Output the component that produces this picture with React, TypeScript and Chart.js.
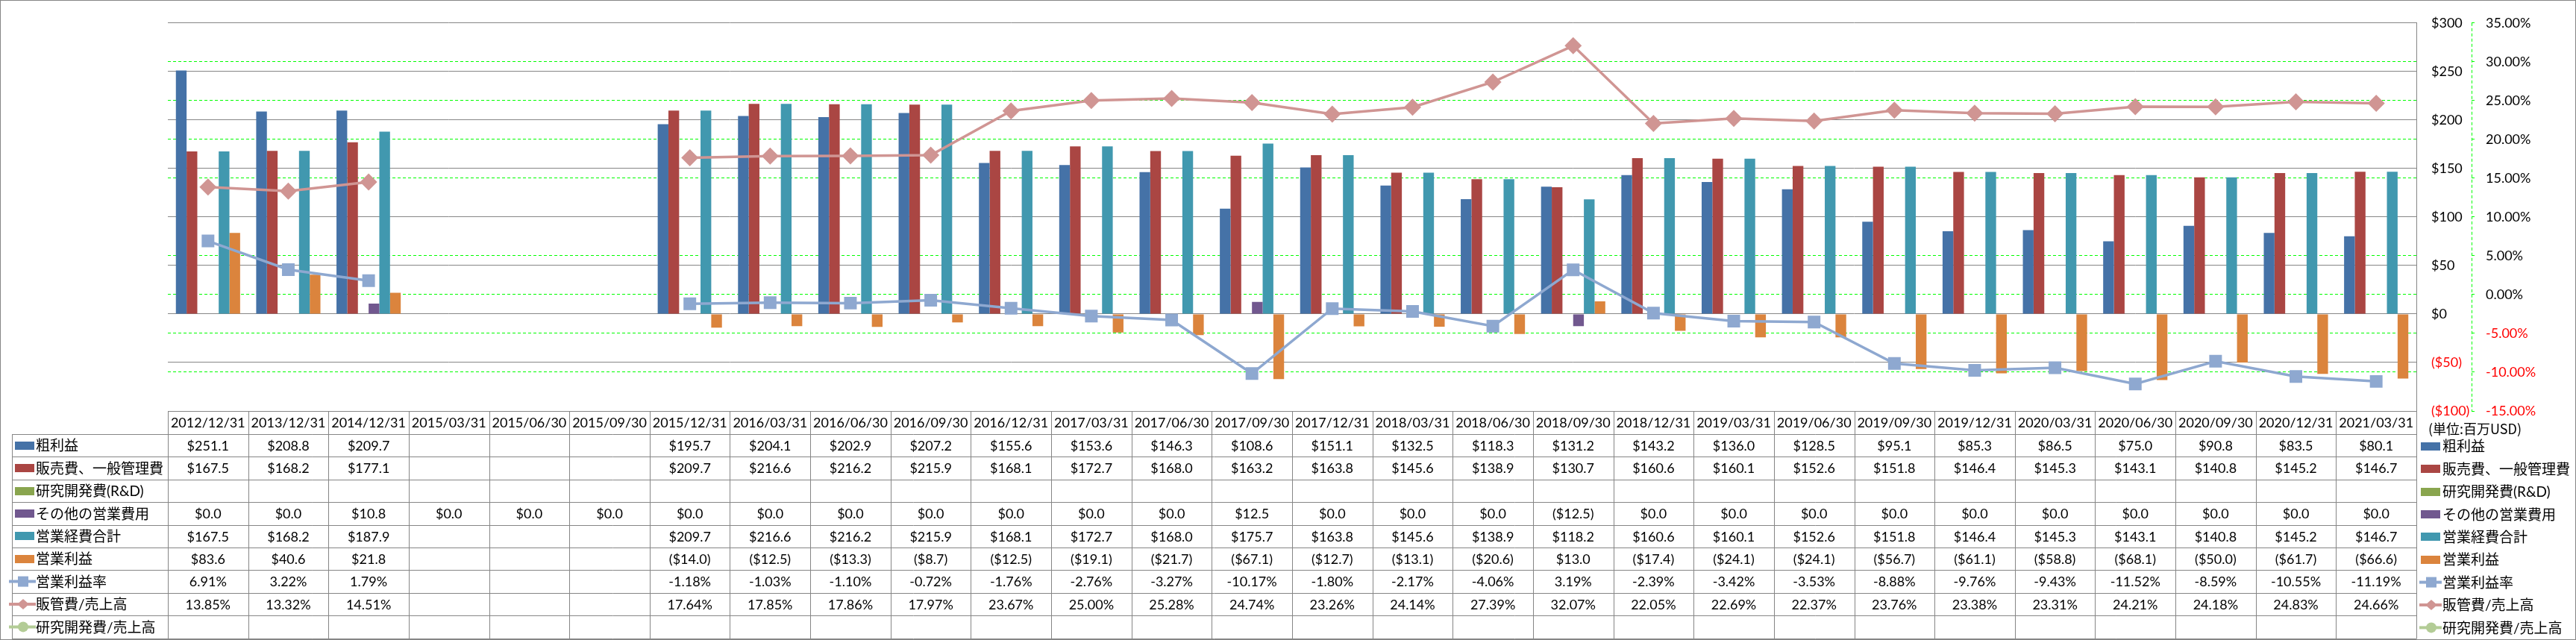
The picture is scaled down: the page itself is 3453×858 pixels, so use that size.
import React, { useEffect, useRef } from 'react';
import { Chart, registerables } from 'chart.js';

Chart.register(...registerables);

const N = null;

const categories = [
  '2012/12/31', '2013/12/31', '2014/12/31', '2015/03/31', '2015/06/30', '2015/09/30', '2015/12/31',
  '2016/03/31', '2016/06/30', '2016/09/30', '2016/12/31', '2017/03/31', '2017/06/30', '2017/09/30',
  '2017/12/31', '2018/03/31', '2018/06/30', '2018/09/30', '2018/12/31', '2019/03/31', '2019/06/30',
  '2019/09/30', '2019/12/31', '2020/03/31', '2020/06/30', '2020/09/30', '2020/12/31', '2021/03/31',
];

const grossProfit = [251.1, 208.8, 209.7, N, N, N, 195.7, 204.1, 202.9, 207.2, 155.6, 153.6, 146.3, 108.6, 151.1, 132.5, 118.3, 131.2, 143.2, 136.0, 128.5, 95.1, 85.3, 86.5, 75.0, 90.8, 83.5, 80.1];
const sgaExpense = [167.5, 168.2, 177.1, N, N, N, 209.7, 216.6, 216.2, 215.9, 168.1, 172.7, 168.0, 163.2, 163.8, 145.6, 138.9, 130.7, 160.6, 160.1, 152.6, 151.8, 146.4, 145.3, 143.1, 140.8, 145.2, 146.7];
const rndExpense = [N, N, N, N, N, N, N, N, N, N, N, N, N, N, N, N, N, N, N, N, N, N, N, N, N, N, N, N];
const otherOpex = [0, 0, 10.8, 0, 0, 0, 0, 0, 0, 0, 0, 0, 0, 12.5, 0, 0, 0, -12.5, 0, 0, 0, 0, 0, 0, 0, 0, 0, 0];
const totalOpex = [167.5, 168.2, 187.9, N, N, N, 209.7, 216.6, 216.2, 215.9, 168.1, 172.7, 168.0, 175.7, 163.8, 145.6, 138.9, 118.2, 160.6, 160.1, 152.6, 151.8, 146.4, 145.3, 143.1, 140.8, 145.2, 146.7];
const operatingIncome = [83.6, 40.6, 21.8, N, N, N, -14.0, -12.5, -13.3, -8.7, -12.5, -19.1, -21.7, -67.1, -12.7, -13.1, -20.6, 13.0, -17.4, -24.1, -24.1, -56.7, -61.1, -58.8, -68.1, -50.0, -61.7, -66.6];
const operatingMargin = [6.91, 3.22, 1.79, N, N, N, -1.18, -1.03, -1.10, -0.72, -1.76, -2.76, -3.27, -10.17, -1.80, -2.17, -4.06, 3.19, -2.39, -3.42, -3.53, -8.88, -9.76, -9.43, -11.52, -8.59, -10.55, -11.19];
const sgaToSales = [13.85, 13.32, 14.51, N, N, N, 17.64, 17.85, 17.86, 17.97, 23.67, 25.00, 25.28, 24.74, 23.26, 24.14, 27.39, 32.07, 22.05, 22.69, 22.37, 23.76, 23.38, 23.31, 24.21, 24.18, 24.83, 24.66];
const rndToSales = [N, N, N, N, N, N, N, N, N, N, N, N, N, N, N, N, N, N, N, N, N, N, N, N, N, N, N, N];

const seriesNames = [
  '粗利益', '販売費、一般管理費', '研究開発費(R&D)', 'その他の営業費用', '営業経費合計', '営業利益',
  '営業利益率', '販管費/売上高', '研究開発費/売上高',
];
const seriesColors = ['#4572A7', '#AA4643', '#89A54E', '#71588F', '#4198AF', '#DB843D', '#8EA8D0', '#D09593', '#B3CC96'];

const usdMin = -100;
const usdMax = 300;
const usdStep = 50;
const pctMin = -15;
const pctMax = 35;
const pctStep = 5;
const unitLabel = '(単位:百万USD)';

const fmtMoney = (v: number) => (v < 0 ? `($${(-v).toFixed(1)})` : `$${v.toFixed(1)}`);
const fmtPct = (v: number) => `${v.toFixed(2)}%`;

type Row = { label: string; data: (number | null)[]; fmt: (v: number) => string; key: string; color: string };

const tableRows: Row[] = [
  { label: seriesNames[0], data: grossProfit, fmt: fmtMoney, key: 'bar', color: seriesColors[0] },
  { label: seriesNames[1], data: sgaExpense, fmt: fmtMoney, key: 'bar', color: seriesColors[1] },
  { label: seriesNames[2], data: rndExpense, fmt: fmtMoney, key: 'bar', color: seriesColors[2] },
  { label: seriesNames[3], data: otherOpex, fmt: fmtMoney, key: 'bar', color: seriesColors[3] },
  { label: seriesNames[4], data: totalOpex, fmt: fmtMoney, key: 'bar', color: seriesColors[4] },
  { label: seriesNames[5], data: operatingIncome, fmt: fmtMoney, key: 'bar', color: seriesColors[5] },
  { label: seriesNames[6], data: operatingMargin, fmt: fmtPct, key: 'square', color: seriesColors[6] },
  { label: seriesNames[7], data: sgaToSales, fmt: fmtPct, key: 'diamond', color: seriesColors[7] },
  { label: seriesNames[8], data: rndToSales, fmt: fmtPct, key: 'circle', color: seriesColors[8] },
];

const NUM_FONT = 'Lato, "Noto Sans CJK JP", sans-serif';
const GRID_GRAY = '#868686';
const GREEN = '#00FF00';

function drawKey(ctx: CanvasRenderingContext2D, kind: string, color: string, x0: number, x1: number, cx: number, cy: number) {
  ctx.save();
  ctx.fillStyle = color;
  ctx.strokeStyle = color;
  if (kind === 'bar') {
    ctx.fillRect(x0, Math.round(cy - 5.5), x1 - x0, 11);
  } else {
    ctx.lineWidth = 4;
    ctx.beginPath();
    ctx.moveTo(x0, cy);
    ctx.lineTo(x1, cy);
    ctx.stroke();
    ctx.beginPath();
    if (kind === 'square') {
      ctx.rect(cx - 7, cy - 7, 14, 14);
    } else if (kind === 'diamond') {
      ctx.moveTo(cx - 8, cy);
      ctx.lineTo(cx, cy - 7);
      ctx.lineTo(cx + 8, cy);
      ctx.lineTo(cx, cy + 7);
      ctx.closePath();
    } else {
      ctx.arc(cx, cy, 7, 0, Math.PI * 2);
    }
    ctx.fill();
  }
  ctx.restore();
}

const tablePlugin = {
  id: 'excelTable',
  afterDraw(chart: any) {
    const { ctx, chartArea: ca, scales } = chart;
    const xs = scales.x;
    const y1 = scales.y1;
    const n = categories.length;
    const colW = (ca.right - ca.left) / n;
    const headTop = ca.bottom;
    const headH = 31;
    const rowH = 30.4;
    const bodyTop = headTop + headH;
    const tableBottom = bodyTop + tableRows.length * rowH;
    const labelLeft = 16;
    const px = (v: number) => Math.round(v) + 0.5;

    ctx.save();
    ctx.strokeStyle = GRID_GRAY;
    ctx.lineWidth = 1;
    ctx.strokeRect(0.5, 0.5, chart.width - 1, chart.height - 1);

    ctx.save();
    ctx.strokeStyle = GREEN;
    ctx.setLineDash([4, 3]);
    ctx.beginPath();
    const ax = px(y1.left);
    ctx.moveTo(ax, ca.top);
    ctx.lineTo(ax, ca.bottom);
    ctx.stroke();
    ctx.restore();

    ctx.strokeStyle = GRID_GRAY;
    ctx.lineWidth = 1;
    ctx.beginPath();
    ctx.moveTo(ca.left, px(headTop));
    ctx.lineTo(ca.right, px(headTop));
    for (let r = 0; r <= tableRows.length; r++) {
      const yy = px(bodyTop + r * rowH);
      ctx.moveTo(labelLeft, yy);
      ctx.lineTo(ca.right, yy);
    }
    ctx.moveTo(px(labelLeft), px(bodyTop));
    ctx.lineTo(px(labelLeft), px(tableBottom));
    for (let i = 0; i <= n; i++) {
      const xx = i < n ? xs.getPixelForValue(i) - colW / 2 : xs.getPixelForValue(n - 1) + colW / 2;
      ctx.moveTo(px(xx), px(headTop));
      ctx.lineTo(px(xx), px(tableBottom));
    }
    ctx.stroke();

    ctx.fillStyle = '#000';
    ctx.textAlign = 'center';
    ctx.textBaseline = 'middle';
    ctx.font = `18px ${NUM_FONT}`;
    categories.forEach((c, i) => ctx.fillText(c, xs.getPixelForValue(i), headTop + headH / 2 + 1));

    tableRows.forEach((row, r) => {
      const cy = bodyTop + rowH * (r + 0.5);
      ctx.font = `18px ${NUM_FONT}`;
      ctx.textAlign = 'center';
      ctx.fillStyle = '#000';
      row.data.forEach((v, i) => {
        if (v === null || v === undefined) return;
        ctx.fillText(row.fmt(v), xs.getPixelForValue(i), cy + 1);
      });
      drawKey(ctx, row.key, row.color, row.key === 'bar' ? 20 : 12, row.key === 'bar' ? 46 : 48, 31, cy);
      ctx.textAlign = 'left';
      ctx.font = `19px ${NUM_FONT}`;
      ctx.fillStyle = '#000';
      ctx.fillText(row.label, 48, cy + 1);

      const lx = ca.right;
      drawKey(ctx, row.key, row.color, row.key === 'bar' ? lx + 6 : lx + 4, row.key === 'bar' ? lx + 32 : lx + 34, lx + 20, cy + 1);
      ctx.fillStyle = '#000';
      ctx.fillText(row.label, lx + 35, cy + 2);
    });

    ctx.font = '18px "Noto Sans CJK JP", sans-serif';
    ctx.textAlign = 'left';
    ctx.fillText(unitLabel, ca.right + 16, 575);
    ctx.restore();
  },
};

export default function App() {
  const ref = useRef<HTMLCanvasElement | null>(null);

  useEffect(() => {
    document.body.style.margin = '0';
    const canvas = ref.current;
    if (!canvas) return;
    const barDs = (i: number, data: (number | null)[]) => ({
      type: 'bar' as const,
      label: seriesNames[i],
      data,
      backgroundColor: seriesColors[i],
      borderWidth: 0,
      yAxisID: 'y',
      order: 1,
    });
    const chart = new Chart(canvas, {
      type: 'bar',
      data: {
        labels: categories,
        datasets: [
          barDs(0, grossProfit),
          barDs(1, sgaExpense),
          barDs(2, rndExpense),
          barDs(3, otherOpex),
          barDs(4, totalOpex),
          barDs(5, operatingIncome),
          {
            type: 'line',
            label: seriesNames[6],
            data: operatingMargin,
            borderColor: seriesColors[6],
            backgroundColor: seriesColors[6],
            borderWidth: 3.5,
            pointStyle: 'rect',
            pointRadius: 12,
            pointBorderWidth: 0,
            pointBackgroundColor: seriesColors[6],
            yAxisID: 'y1',
            order: 0,
            spanGaps: false,
          },
          {
            type: 'line',
            label: seriesNames[7],
            data: sgaToSales,
            borderColor: seriesColors[7],
            backgroundColor: seriesColors[7],
            borderWidth: 3.5,
            pointStyle: 'rectRot',
            pointRadius: 11.5,
            pointBorderWidth: 0,
            pointBackgroundColor: seriesColors[7],
            yAxisID: 'y1',
            order: 0,
            spanGaps: false,
          },
          {
            type: 'line',
            label: seriesNames[8],
            data: rndToSales,
            borderColor: seriesColors[8],
            backgroundColor: seriesColors[8],
            borderWidth: 3.5,
            pointStyle: 'circle',
            pointRadius: 8,
            yAxisID: 'y1',
            order: 0,
          },
        ] as any,
      },
      options: {
        responsive: false,
        animation: false,
        devicePixelRatio: 1,
        layout: { padding: { left: 225, right: 40, top: 13, bottom: 307 } },
        datasets: { bar: { categoryPercentage: 0.8, barPercentage: 1.0 } },
        plugins: { legend: { display: false }, tooltip: { enabled: false }, title: { display: false } },
        scales: {
          x: { type: 'category', display: false, offset: true },
          y: {
            type: 'linear',
            position: 'right',
            min: usdMin,
            max: usdMax,
            afterFit: (s: any) => { s.width = 74; },
            grid: { color: GRID_GRAY, lineWidth: 1, drawTicks: false },
            border: { display: true, color: GRID_GRAY, width: 1 },
            ticks: {
              stepSize: usdStep,
              padding: 20,
              font: { family: 'Lato', size: 18 },
              color: (c: any) => (c.tick && c.tick.value < 0 ? '#FF0000' : '#000000'),
              callback: (v: any) => (Number(v) < 0 ? `($${-Number(v)})` : `$${Number(v)}`),
            },
          },
          y1: {
            type: 'linear',
            position: 'right',
            min: pctMin,
            max: pctMax,
            afterFit: (s: any) => { s.width = 100; },
            grid: {
              drawOnChartArea: true,
              color: (c: any) => {
                const v = c.tick ? c.tick.value : 0;
                return v === pctMax || v === pctMin || v === 10 ? 'rgba(0,0,0,0)' : GREEN;
              },
              tickColor: GREEN,
              tickLength: 4,
              lineWidth: 1,
            },
            border: { display: false, dash: [4, 3] },
            ticks: {
              stepSize: pctStep,
              padding: 15,
              font: { family: 'Lato', size: 18 },
              color: (c: any) => (c.tick && c.tick.value < 0 ? '#FF0000' : '#000000'),
              callback: (v: any) => `${Number(v).toFixed(2)}%`,
            },
          },
        },
      } as any,
      plugins: [tablePlugin],
    });

    let alive = true;
    if ((document as any).fonts && (document as any).fonts.load) {
      Promise.all([
        (document as any).fonts.load('18px Lato'),
        (document as any).fonts.load('19px "Noto Sans CJK JP"', '粗利益販売費'),
      ]).then(() => { if (alive) chart.update(); }).catch(() => {});
    }
    return () => { alive = false; chart.destroy(); };
  }, []);

  return (
    <div style={{ position: 'absolute', left: 0, top: 0, width: 3453, height: 858, background: '#fff' }}>
      <canvas ref={ref} width={3453} height={858} style={{ display: 'block', width: 3453, height: 858 }} />
    </div>
  );
}
